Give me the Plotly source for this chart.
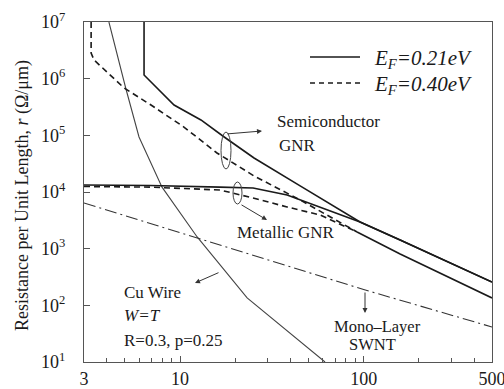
import math
import plotly.graph_objects as go

# ---- data ----
semi_021_x = [6.37, 6.37, 9.28, 13.0, 17.4, 25.3, 45.1, 95.6, 158, 500]
semi_021_y = [1e7, 1.16e6, 3.43e5, 1.87e5, 9.35e4, 3.98e4, 1.28e4, 2.96e3, 1.42e3, 258]

metal_021_x = [3, 6.86, 16.5, 25.0, 38.3, 57.9, 95.6, 158, 500]
metal_021_y = [1.33e4, 1.30e4, 1.22e4, 1.18e4, 8.85e3, 5.44e3, 2.96e3, 1.42e3, 258]

semi_040_x = [3.28, 3.28, 3.40, 4.96, 6.95, 10.5, 15.9, 25.3, 45.1, 92.1]
semi_040_y = [1e7, 2.84e6, 2.14e6, 6.84e5, 3.43e5, 1.40e5, 4.88e4, 1.92e4, 7.23e3, 1.97e3]

metal_040_x = [3, 6.86, 16.5, 25.0, 38.3, 57.9, 92.1]
metal_040_y = [1.25e4, 1.22e4, 1.085e4, 7.84e3, 5.44e3, 3.93e3, 1.97e3]

tail_040_x = [92.1, 158, 500]
tail_040_y = [1.97e3, 806, 135]

swnt_x = [3, 100, 500]
swnt_y = [6.40e3, 190, 41.5]

cu_x = [4.10, 5.06, 5.98, 7.98, 12.4, 23.2, 61.6]
cu_y = [1e7, 6.84e5, 9.35e4, 1.22e4, 1.61e3, 135, 10]

x_tickvals = [3, 10, 100, 500]
x_ticktext = ["3", "10", "100", "500"]
x_minor = [4, 5, 6, 7, 8, 9, 20, 30, 40, 50, 60, 70, 80, 90, 200, 300, 400]
y_tickvals = [1e1, 1e2, 1e3, 1e4, 1e5, 1e6, 1e7]
y_ticktext = ["10<sup>1</sup>", "10<sup>2</sup>", "10<sup>3</sup>", "10<sup>4</sup>",
              "10<sup>5</sup>", "10<sup>6</sup>", "10<sup>7</sup>"]

SERIF = "Liberation Serif"
INK = "#1a1a1a"

fig = go.Figure()

def add(x, y, name, color=INK, width=1.6, dash="solid"):
    fig.add_trace(go.Scatter(x=x, y=y, mode="lines", name=name,
                             line=dict(color=color, width=width, dash=dash),
                             showlegend=False, hoverinfo="skip"))

add(cu_x, cu_y, "Cu Wire", color="#444444", width=1.1)
add(swnt_x, swnt_y, "Mono-Layer SWNT", color="#333333", width=1.1, dash="12px,4px,2px,4px")
add(semi_021_x, semi_021_y, "Semiconductor GNR, EF=0.21eV")
add(metal_021_x, metal_021_y, "Metallic GNR, EF=0.21eV")
add(semi_040_x, semi_040_y, "Semiconductor GNR, EF=0.40eV", dash="6px,4px")
add(metal_040_x, metal_040_y, "Metallic GNR, EF=0.40eV", dash="6px,4px")
add(tail_040_x, tail_040_y, "GNR, EF=0.40eV (wide)")

L, R, T, B = 84, 12, 22, 27
W, H = 504, 389
pw, ph = W - L - R, H - T - B

def px(x):
    return (x - L) / pw

def py(y):
    return (H - B - y) / ph

shapes = []
# legend samples
shapes.append(dict(type="line", xref="paper", yref="paper", x0=px(310), x1=px(360),
                   y0=py(57), y1=py(57), line=dict(color=INK, width=1.6)))
shapes.append(dict(type="line", xref="paper", yref="paper", x0=px(310), x1=px(360),
                   y0=py(83), y1=py(83), line=dict(color=INK, width=1.4, dash="5px,4px")))
# ellipses
shapes.append(dict(type="circle", xref="paper", yref="paper", x0=px(221), x1=px(231),
                   y0=py(169), y1=py(132), line=dict(color="#444", width=1)))
shapes.append(dict(type="circle", xref="paper", yref="paper", x0=px(233), x1=px(242),
                   y0=py(204), y1=py(182), line=dict(color="#444", width=1)))

ann = []
def text(t, x, y, xanchor="left", size=17, italic=False):
    ann.append(dict(text=("<i>%s</i>" % t) if italic else t, x=px(x), y=py(y),
                    xref="paper", yref="paper", xanchor=xanchor, yanchor="middle",
                    showarrow=False, font=dict(family=SERIF, size=size, color=INK)))

def arrow(hx, hy, tx, ty):
    ann.append(dict(text="", x=px(hx), y=py(hy), xref="paper", yref="paper",
                    ax=tx - hx, ay=ty - hy, axref="pixel", ayref="pixel",
                    showarrow=True, arrowhead=2, arrowsize=1, arrowwidth=1,
                    arrowcolor="#333"))

text("E<sub>F</sub>=0.21eV", 372, 59, size=21, italic=True)
text("E<sub>F</sub>=0.40eV", 372, 85, size=21, italic=True)
text("Semiconductor", 275, 122)
text("GNR", 277, 145)
text("Metallic GNR", 235, 232)
text("Cu Wire", 122, 292)
text("W=T", 122, 315, italic=True)
text("R=0.3, p=0.25", 122, 340)
text("Mono\u2013Layer", 377, 326, xanchor="center", size=16.5)
text("SWNT", 372, 344, xanchor="center", size=16.5)
arrow(262, 131, 226, 134)
arrow(267, 220, 240, 204)
arrow(195, 283, 220, 272)
arrow(365, 313, 365, 291)

ann.append(dict(text="Resistance per Unit Length, <i>r</i> (\u03a9/\u03bcm)", textangle=-90,
                x=px(22), y=py(196), xref="paper", yref="paper",
                xanchor="center", yanchor="middle", showarrow=False,
                font=dict(family=SERIF, size=18, color=INK)))

fig.update_layout(
    width=W, height=H, margin=dict(l=L, r=R, t=T, b=B, autoexpand=False),
    paper_bgcolor="white", plot_bgcolor="white",
    showlegend=False, shapes=shapes, annotations=ann,
    font=dict(family=SERIF, size=18, color=INK),
)
fig.update_xaxes(type="log", range=[math.log10(3) - 1e-6, math.log10(500) + 1e-6],
                 tickvals=x_tickvals, ticktext=x_ticktext, ticklabeloverflow="allow",
                 ticks="inside", ticklen=6, tickcolor="#555", showgrid=False, zeroline=False,
                 showline=True, linecolor="#555", linewidth=1.3, mirror=True, automargin=False,
                 tickfont=dict(family=SERIF, size=18, color=INK),
                 minor=dict(tickvals=x_minor, ticks="inside", ticklen=4, tickcolor="#555", showgrid=False))
fig.update_yaxes(type="log", range=[1, 7], tickvals=y_tickvals, ticktext=y_ticktext,
                 ticks="inside", ticklen=6, tickcolor="#555", showgrid=False, zeroline=False,
                 showline=True, linecolor="#555", linewidth=1.3, mirror=True, automargin=False,
                 ticklabelstandoff=14, ticklabeloverflow="allow",
                 tickfont=dict(family=SERIF, size=18, color=INK))

fig.write_html("out.html")
